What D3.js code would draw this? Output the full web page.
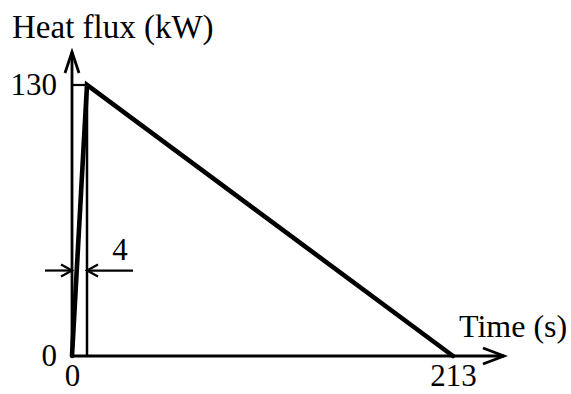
<!DOCTYPE html>
<html>
<head>
<meta charset="utf-8">
<script src="https://cdn.jsdelivr.net/npm/d3@7"></script>
<style>
  html, body { margin: 0; padding: 0; background: #fff; }
  svg { display: block; }
  text { font-family: "Liberation Serif", "Times New Roman", serif; fill: #000; }
</style>
</head>
<body>
<svg id="chart" width="571" height="394"></svg>
<script>
// Heat release curve: linear ramp to the peak, then linear decay
const times = [0, 4, 213];          // s
const heatFlux = [0, 130, 0];       // kW
const xTickValues = [0, 213];
const yTickValues = [0, 130];
const rampLabel = "4";
const xTitle = "Time (s)";
const yTitle = "Heat flux (kW)";

const svg = d3.select("#chart");

// Schematic time axis: the short ramp is widened so it stays readable
const x = d3.scaleLinear().domain([0, 4, 213]).range([72, 87, 453]);
const y = d3.scaleLinear().domain([0, 130]).range([356, 85]);

const x0 = x(0), y0 = y(0);
const xEnd = 504, yEnd = 52;

// Axes with arrowheads
const g = svg.append("g");
g.append("line").attr("x1", x0).attr("y1", y0).attr("x2", xEnd).attr("y2", y0)
  .attr("stroke", "#000").attr("stroke-width", 2.8);
g.append("line").attr("x1", x0).attr("y1", y0 + 1).attr("x2", x0).attr("y2", yEnd)
  .attr("stroke", "#000").attr("stroke-width", 2.8);
g.append("path")
  .attr("d", `M${xEnd - 21},${y0 - 8}L${xEnd},${y0}L${xEnd - 21},${y0 + 8}`)
  .attr("fill", "none").attr("stroke", "#000").attr("stroke-width", 2.8)
  .attr("stroke-linejoin", "miter");
g.append("path")
  .attr("d", `M${x0 - 7},${yEnd + 21}L${x0},${yEnd}L${x0 + 7},${yEnd + 21}`)
  .attr("fill", "none").attr("stroke", "#000").attr("stroke-width", 2.8)
  .attr("stroke-linejoin", "miter");

// Tick labels through d3 axes (no tick marks or domain line)
const xAxis = svg.append("g").attr("transform", `translate(0,${y0})`)
  .call(d3.axisBottom(x).tickValues(xTickValues).tickSize(0).tickPadding(8).tickFormat(d3.format("d")));
const yAxis = svg.append("g").attr("transform", `translate(${x0},0)`)
  .call(d3.axisLeft(y).tickValues(yTickValues).tickSize(0).tickPadding(15).tickFormat(d3.format("d")));
[xAxis, yAxis].forEach(a => {
  a.select(".domain").remove();
  a.selectAll("text").attr("font-family", "Liberation Serif").attr("font-size", 31).attr("fill", "#000");
});

// Guide lines at the peak
const tPeak = times[1], qPeak = heatFlux[1];
g.append("line").attr("x1", x0).attr("y1", y(qPeak)).attr("x2", x(tPeak)).attr("y2", y(qPeak))
  .attr("stroke", "#000").attr("stroke-width", 2.2);
g.append("line").attr("x1", x(tPeak)).attr("y1", y(qPeak)).attr("x2", x(tPeak)).attr("y2", y0)
  .attr("stroke", "#000").attr("stroke-width", 2.5);

// Heat flux curve
const data = times.map((t, i) => ({ t, q: heatFlux[i] }));
svg.append("path").datum(data)
  .attr("d", d3.line().x(d => x(d.t)).y(d => y(d.q)))
  .attr("fill", "none").attr("stroke", "#000").attr("stroke-width", 4.6)
  .attr("stroke-linejoin", "miter").attr("stroke-linecap", "round");

// Ramp duration dimension
const dimY = y(41);
const dim = svg.append("g");
dim.append("line").attr("x1", 45).attr("y1", dimY).attr("x2", x0).attr("y2", dimY)
  .attr("stroke", "#000").attr("stroke-width", 2.2);
dim.append("line").attr("x1", x(tPeak)).attr("y1", dimY).attr("x2", 133).attr("y2", dimY)
  .attr("stroke", "#000").attr("stroke-width", 2.2);
dim.append("path")
  .attr("d", `M${x0 - 11},${dimY - 6}L${x0},${dimY}L${x0 - 11},${dimY + 6}`)
  .attr("fill", "none").attr("stroke", "#000").attr("stroke-width", 2.2);
dim.append("path")
  .attr("d", `M${x(tPeak) + 11},${dimY - 6}L${x(tPeak)},${dimY}L${x(tPeak) + 11},${dimY + 6}`)
  .attr("fill", "none").attr("stroke", "#000").attr("stroke-width", 2.2);
dim.append("text").attr("x", 120).attr("y", 260).attr("text-anchor", "middle")
  .attr("font-size", 31).text(rampLabel);

// Axis titles
svg.append("text").attr("x", 12).attr("y", 38).attr("font-size", 33).text(yTitle);
svg.append("text").attr("x", 459).attr("y", 337).attr("font-size", 32).text(xTitle);
</script>
</body>
</html>
